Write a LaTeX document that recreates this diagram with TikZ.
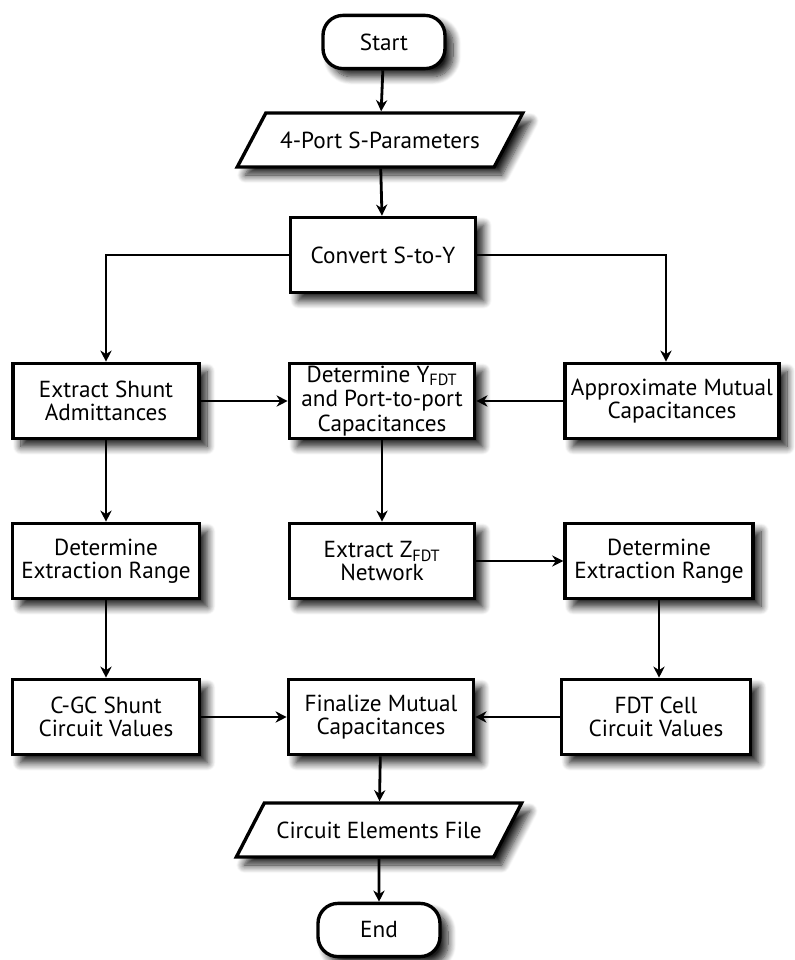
\documentclass[tikz,border=0pt]{standalone}
\usepackage{fontspec}
\setmainfont{PT Sans}
\usetikzlibrary{arrows.meta}
\usetikzlibrary{shapes.geometric}
\usetikzlibrary{shadows.blur}
\usetikzlibrary{positioning}

\tikzset{
  shade/.style={blur shadow={shadow xshift=2mm, shadow yshift=-2mm, shadow blur steps=10, shadow blur radius=2mm, shadow opacity=90}},
  procbox/.style={draw, line width=2.4pt, fill=white, align=center, shade,
    minimum height=18.8mm, inner sep=0.5mm, font=\fontsize{16.5}{16.5}\selectfont},
  termbox/.style={draw, line width=2.4pt, fill=white, rounded corners=5mm, shade,
    minimum width=30.5mm, minimum height=13.3mm, font=\fontsize{16.5}{16.5}\selectfont},
  iobox/.style={draw, line width=2.4pt, fill=white, trapezium, trapezium left angle=45,
    trapezium right angle=135, trapezium stretches=true, shade,
    minimum width=71.5mm, minimum height=13.5mm, font=\fontsize{16.5}{16.5}\selectfont},
  arr/.style={line width=2pt, -{Stealth[length=2.8mm,width=2.8mm]}}
}

\begin{document}
\begin{tikzpicture}[x=0.25mm,y=-0.25mm]
\useasboundingbox (0,0) rectangle (794,960);

\node[termbox] (start) at (384,42) {Start};
\node[iobox] (sparam) at (380,140) {4-Port S-Parameters};
\node[procbox,minimum width=46.3mm] (convert) at (383,255) {Convert S-to-Y};

\node[procbox,minimum width=46.5mm] (shunt) at (106,401) {Extract Shunt\\Admittances};
\node[procbox,minimum width=46.3mm,font=\fontsize{16.5}{17.5}\selectfont] (yfdt) at (382,401) {Determine Y\textsubscript{FDT}\\and Port-to-port\\Capacitances};
\node[procbox,minimum width=53.5mm] (approx) at (672,401) {Approximate Mutual\\Capacitances};

\node[procbox,minimum width=46.7mm] (rangeL) at (106,561) {Determine\\Extraction Range};
\node[procbox,minimum width=46.3mm] (zfdt) at (382,561) {Extract Z\textsubscript{FDT}\\Network};
\node[procbox,minimum width=47mm] (rangeR) at (659,561) {Determine\\Extraction Range};

\node[procbox,minimum width=46.7mm] (cgc) at (106,717) {C-GC Shunt\\Circuit Values};
\node[procbox,minimum width=46.3mm] (finalize) at (381,717) {Finalize Mutual\\Capacitances};
\node[procbox,minimum width=47.2mm] (fdt) at (656,717) {FDT Cell\\Circuit Values};

\node[iobox] (elemfile) at (379,830) {Circuit Elements File};
\node[termbox] (finish) at (379,930) {End};

% connectors
\draw[arr] (start) -- (sparam);
\draw[arr] (sparam) -- (convert);
\draw[arr] (convert.west) -| (shunt.north);
\draw[arr] (convert.east) -| ([xshift=-1.5mm]approx.north);
\draw[arr] (shunt) -- (yfdt);
\draw[arr] (approx) -- (yfdt);
\draw[arr] (shunt) -- (rangeL);
\draw[arr] (yfdt) -- (zfdt);
\draw[arr] (zfdt) -- (rangeR);
\draw[arr] (rangeL) -- (cgc);
\draw[arr] (rangeR.south) -- (rangeR.south |- fdt.north);
\draw[arr] (cgc) -- (finalize);
\draw[arr] (fdt) -- (finalize);
\draw[arr] (finalize) -- (elemfile);
\draw[arr] (elemfile) -- (finish);

\end{tikzpicture}
\end{document}
